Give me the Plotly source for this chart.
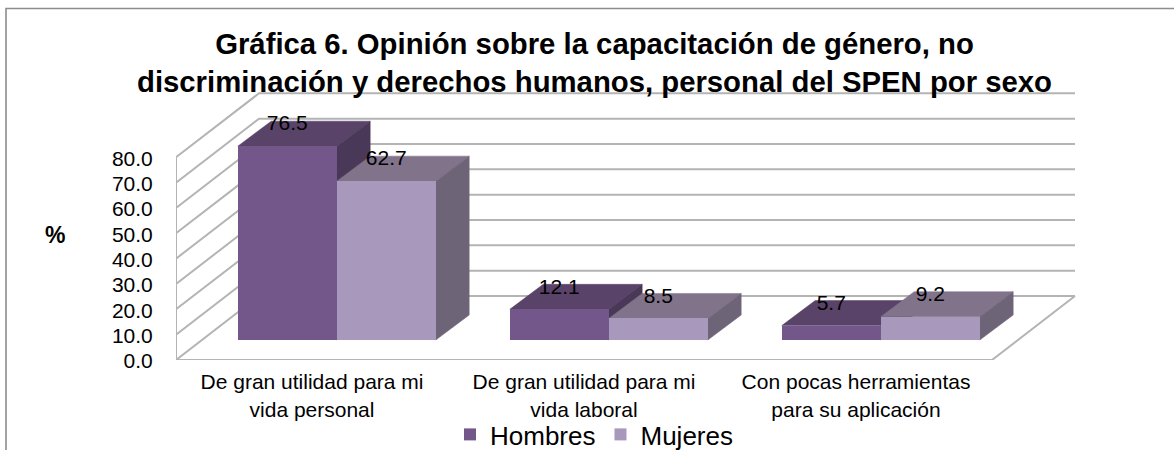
import plotly.graph_objects as go

# ---- data ----
categories = ["De gran utilidad para mi<br>vida personal",
              "De gran utilidad para mi<br>vida laboral",
              "Con pocas herramientas<br>para su aplicación"]
hombres = [76.5, 12.1, 5.7]
mujeres = [62.7, 8.5, 9.2]
y_ticks = [0, 10, 20, 30, 40, 50, 60, 70, 80]
y_tick_labels = ["0.0", "10.0", "20.0", "30.0", "40.0", "50.0", "60.0", "70.0", "80.0"]
title = ("<b>Gráfica 6. Opinión sobre la capacitación de género, no<br>"
         "discriminación y derechos humanos, personal del SPEN por sexo</b>")

# ---- layout geometry (pixels of the page) ----
W, H = 1174, 450
PL, PR, PT, PB = 176, 1090, 85, 360          # plot rectangle
PX_X = 272.0                                  # px per category
PX_Y = 202.7 / 80                             # px per percent unit
FONT = "Liberation Sans"

def ux(px): return px / PX_X
def uy(px): return px / PX_Y

X0 = -0.5
X1 = 2.5
xs = list(range(len(categories)))

# depth of the wall/floor and of each bar
WALL_DX, WALL_DY = ux(83), uy(64)
BAR_W = ux(99)
BAR_SHIFT, BAR_LIFT = ux(24.8), uy(20)
DEP_X, DEP_Y = ux(33.4), uy(25)
LABEL_UP = uy(21)

GRID = "#b4b4b4"
C_M = dict(front="#73578b", top="#5a4369", side="#4a3859")
C_W = dict(front="#a898bc", top="#80738a", side="#6e6478")

fig = go.Figure()

# walls and floor
gx, gy = [], []
for v in y_ticks:
    gx += [X0, X0 + WALL_DX, X1 + WALL_DX, None]
    gy += [v, v + WALL_DY, v + WALL_DY, None]
gx += [X0, X0, None, X0, X1, X1 + WALL_DX]
gy += [0, y_ticks[-1], None, 0, 0, WALL_DY]
fig.add_trace(go.Scatter(x=gx, y=gy, mode="lines", line=dict(color=GRID, width=2),
                         showlegend=False, hoverinfo="skip", cliponaxis=False, zorder=0))

def faces(vals, side):
    """top and side polygons of the series' bars"""
    tx, ty, sx, sy = [], [], [], []
    for i, v in enumerate(vals):
        xl = i + BAR_SHIFT + (-BAR_W if side == 0 else 0)
        xr = xl + BAR_W
        t = v + BAR_LIFT
        tx += [xl, xr, xr + DEP_X, xl + DEP_X, xl, None]
        ty += [t, t, t + DEP_Y, t + DEP_Y, t, None]
        sx += [xr, xr + DEP_X, xr + DEP_X, xr, xr, None]
        sy += [t, t + DEP_Y, BAR_LIFT + DEP_Y, BAR_LIFT, t, None]
    return tx, ty, sx, sy

def add_series(name, vals, colors, side, z):
    tx, ty, sx, sy = faces(vals, side)
    for fx, fy, c in ((tx, ty, colors["top"]), (sx, sy, colors["side"])):
        fig.add_trace(go.Scatter(x=fx, y=fy, mode="lines", fill="toself", fillcolor=c,
                                 line=dict(color=c, width=0.5), showlegend=False,
                                 hoverinfo="skip", cliponaxis=False, zorder=z))
    fig.add_trace(go.Bar(x=xs, y=vals, base=BAR_LIFT, name=name, width=BAR_W,
                         offset=BAR_SHIFT + (-BAR_W if side == 0 else 0),
                         marker=dict(color=colors["front"], line=dict(width=0)),
                         zorder=z + 1))
    lx = [i + BAR_SHIFT + (-BAR_W / 2 if side == 0 else BAR_W / 2) for i in xs]
    ly = [v + BAR_LIFT + LABEL_UP for v in vals]
    fig.add_trace(go.Scatter(x=lx, y=ly, mode="text", text=[f"{v:.1f}" for v in vals],
                             textposition="middle center",
                             textfont=dict(family=FONT, size=21, color="#000000"),
                             showlegend=False, hoverinfo="skip", cliponaxis=False, zorder=10))

add_series("Hombres", hombres, C_M, 0, 1)
add_series("Mujeres", mujeres, C_W, 1, 3)

pw, ph = PR - PL, PB - PT

def paper_x(px): return (px - PL) / pw
def paper_y(px): return (PB - px) / ph

fig.update_layout(
    width=W, height=H, autosize=False,
    margin=dict(l=PL, r=W - PR, t=PT, b=H - PB, pad=0, autoexpand=False),
    paper_bgcolor="#ffffff", plot_bgcolor="rgba(0,0,0,0)",
    barmode="overlay", bargap=0,
    font=dict(family=FONT, color="#000000"),
    title=dict(text=title, x=594.5 / W, xanchor="center", xref="container",
               y=1 - 54 / H, yanchor="middle",
               font=dict(family=FONT, size=29.3, color="#000000")),
    xaxis=dict(range=[X0, X0 + ux(pw)], tickmode="array", tickvals=xs, ticktext=categories,
               tickfont=dict(family=FONT, size=21, color="#000000"),
               ticks="outside", ticklen=3, tickcolor="rgba(0,0,0,0)",
               showgrid=False, zeroline=False, showline=False, fixedrange=True),
    yaxis=dict(range=[0, uy(ph)], tickmode="array", tickvals=y_ticks, ticktext=y_tick_labels,
               tickfont=dict(family=FONT, size=21, color="#000000"),
               ticks="outside", ticklen=18, tickcolor="rgba(0,0,0,0)", ticklabelshift=1,
               showgrid=False, zeroline=False, showline=False, fixedrange=True),
    legend=dict(orientation="h", x=paper_x(450), xanchor="left", y=paper_y(411), yanchor="top",
                font=dict(family=FONT, size=26, color="#000000"),
                bgcolor="rgba(0,0,0,0)", traceorder="normal"),
    shapes=[dict(type="path", xref="paper", yref="paper", layer="below",
                 path=f"M {paper_x(6)},{paper_y(450)} L {paper_x(6)},{paper_y(8.5)} L {paper_x(1174)},{paper_y(8.5)}",
                 line=dict(color="#8c8c8c", width=1.6))],
    annotations=[dict(text="<b>%</b>", xref="paper", yref="paper", x=paper_x(55), y=paper_y(235),
                      xanchor="center", yanchor="middle", showarrow=False,
                      font=dict(family=FONT, size=23, color="#000000"))],
)

fig.write_html("out.html", config=dict(displayModeBar=False),
               post_script="document.body.style.margin='0';")
